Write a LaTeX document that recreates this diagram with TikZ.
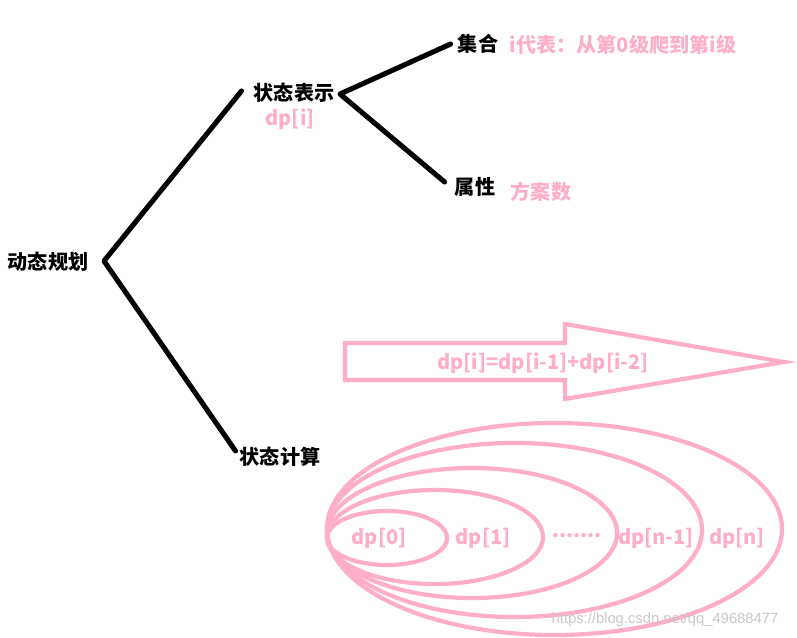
\documentclass[tikz,border=0pt]{standalone}
\usepackage{fontspec}
\setmainfont{Noto Sans CJK SC}
\newfontfamily\wmfont{Liberation Sans}
\definecolor{rose}{RGB}{255,174,201}
\definecolor{wmgray}{RGB}{200,200,200}

\begin{document}
\begin{tikzpicture}[x=0.025cm, y=-0.025cm,
  term/.style={font=\fontsize{14.3}{16}\selectfont\bfseries, inner sep=0pt},
  note/.style={term, text=rose},
  branch/.style={line width=3.6pt, line cap=round, line join=round},
  ring/.style={draw=rose, line width=3pt}]
\useasboundingbox (0,0) rectangle (797,638);

% tree
\node[term] (dpg) at (48,262) {动态规划};
\node[term] (rep) at (294,93) {状态表示};
\node[term] (calc) at (280,457) {状态计算};
\node[term] (set) at (478,44) {集合};
\node[term] (attr) at (475,187) {属性};
\coordinate (fork1) at (104,261);
\coordinate (fork2) at (340,94);
\draw[branch] ([shift={(-12,-2)}]rep.west) -- (fork1) -- ([shift={(-4,-6)}]calc.west);
\draw[branch] ([shift={(-7,0)}]set.west) -- (fork2) -- ([shift={(-10,-5)}]attr.west);

% notes
\node[note] (dpi) at (290,119) {dp[i]};
\node[note] (setnote) at (623,45) {i代表：从第0级爬到第i级};
\node[note] (attrnote) at (541,192) {方案数};

% transfer arrow
\draw[ring, line join=miter] (345,343) -- (565,343) -- (565,324) -- (784,362) -- (565,399) -- (565,380) -- (345,380) -- cycle;
\node[note] (eq) at (543,363) {dp[i]=dp[i-1]+dp[i-2]};

% nested sets
\draw[ring] (554.5,529) ellipse (5.6875cm and 2.65cm);
\draw[ring] (514.5,530) ellipse (4.6875cm and 2.175cm);
\draw[ring] (472,533) ellipse (3.625cm and 1.625cm);
\draw[ring] (435,537) ellipse (2.7cm and 1.175cm);
\draw[ring] (387,538) ellipse (1.5cm and 0.675cm);
\node[note] (s0) at (379,538) {dp[0]};
\node[note] (s1) at (483,538) {dp[1]};
\node[note] (sdots) at (577,536) {.......};
\node[note] (sn1) at (656,538) {dp[n-1]};
\node[note] (sn) at (737,538) {dp[n]};

\node[font=\wmfont\fontsize{10.5}{12}\selectfont, text=wmgray, inner sep=0pt] (wm) at (665,620) {https://blog.csdn.net/qq\_49688477};
\end{tikzpicture}
\end{document}
